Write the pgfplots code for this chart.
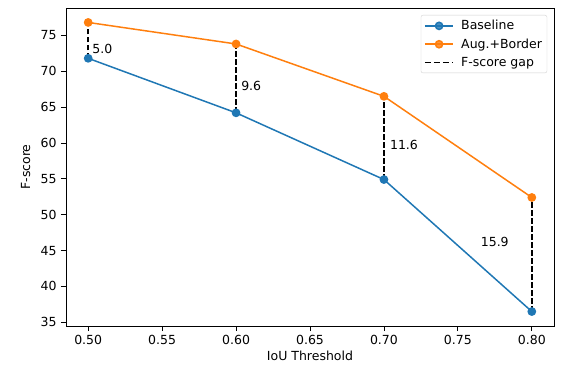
\documentclass[border=0pt]{standalone}
\usepackage{pgfplots}
\pgfplotsset{compat=1.18}
\usepackage{fontspec}
\setmainfont{DejaVu Sans}
\definecolor{mplblue}{HTML}{1F77B4}
\definecolor{mplorange}{HTML}{FF7F0E}
\begin{document}
\fontsize{12.5}{15}\selectfont
\begin{tikzpicture}
\begin{axis}[
  scale only axis, width=488pt, height=318pt,
  xmin=0.485, xmax=0.815, ymin=34.485, ymax=78.815,
  xtick={0.50,0.55,0.60,0.65,0.70,0.75,0.80},
  ytick={35,40,45,50,55,60,65,70,75},
  xticklabel style={/pgf/number format/.cd, fixed, fixed zerofill, precision=2},
  /pgf/number format/assume math mode=true,
  tick pos=left, tick align=outside,
  major tick length=5pt,
  tick style={black, line width=0.8pt},
  axis line style={black, line width=0.8pt},
  xlabel={IoU Threshold}, ylabel={F-score},
  xlabel style={yshift=2pt}, ylabel style={yshift=2pt},
  legend style={at={(rel axis cs:0.986,0.978)}, anchor=north east,
    draw=black!18, rounded corners=2pt, fill=white, fill opacity=0.8, text opacity=1,
    row sep=3pt, inner sep=3pt,
    /tikz/every odd column/.append style={column sep=5pt}},
  legend cell align=left,
  legend image code/.code={\draw[mark repeat=2, mark phase=2] plot coordinates {(0cm,0cm) (0.5cm,0cm) (1.0cm,0cm)};},
]
\addplot[mplblue, line width=1.5pt, mark=*, mark size=3.6pt] coordinates {
  (0.50,71.8) (0.60,64.2) (0.70,54.9) (0.80,36.5)};
\addlegendentry{Baseline}
\addplot[mplorange, line width=1.5pt, mark=*, mark size=3.6pt] coordinates {
  (0.50,76.8) (0.60,73.8) (0.70,66.5) (0.80,52.4)};
\addlegendentry{Aug.+Border}
\addplot[black, line width=1.6pt, dash pattern=on 5.5pt off 2.5pt,
  legend image code/.code={\draw[black, line width=1.8pt, dash pattern=on 6pt off 3pt] (0cm,0cm) -- (1.0cm,0cm);}]
  coordinates {(0.50,71.8) (0.50,76.8)};
\addlegendentry{F-score gap}
\addplot[black, line width=1.6pt, dash pattern=on 5.5pt off 2.5pt, forget plot] coordinates {(0.60,64.2) (0.60,73.8)};
\addplot[black, line width=1.6pt, dash pattern=on 5.5pt off 2.5pt, forget plot] coordinates {(0.70,54.9) (0.70,66.5)};
\addplot[black, line width=1.6pt, dash pattern=on 5.5pt off 2.5pt, forget plot] coordinates {(0.80,36.5) (0.80,52.4)};
\node[anchor=west, inner sep=0pt] at (axis cs:0.5027,73.05) {5.0};
\node[anchor=west, inner sep=0pt] at (axis cs:0.6034,67.98) {9.6};
\node[anchor=west, inner sep=0pt] at (axis cs:0.704,59.77) {11.6};
\node[anchor=east, inner sep=0pt] at (axis cs:0.7845,46.2) {15.9};
\coordinate (bl) at (rel axis cs:0,0);
\coordinate (tr) at (rel axis cs:1,1);
\end{axis}
\pgfresetboundingbox
\path[use as bounding box] ([xshift=-66pt,yshift=-42pt]bl) rectangle ([xshift=11pt,yshift=8pt]tr);
\end{tikzpicture}
\end{document}
